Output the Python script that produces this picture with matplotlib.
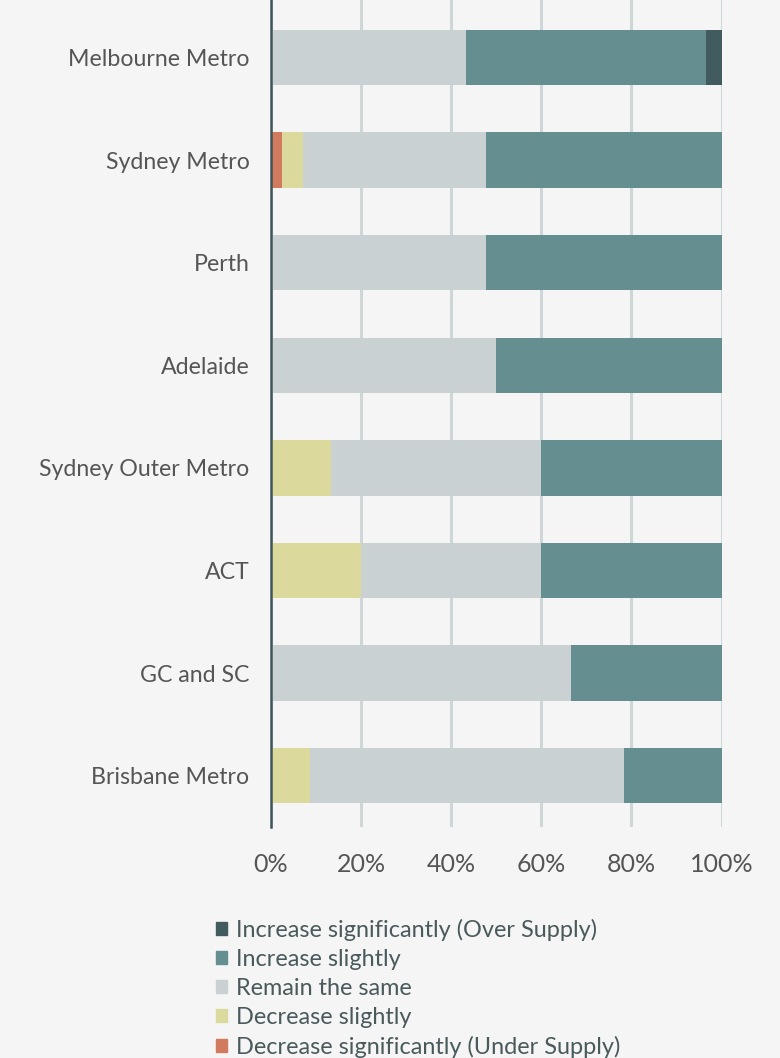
import numpy as np
import matplotlib
matplotlib.use("Agg")
import matplotlib.pyplot as plt
from matplotlib.patches import Patch

regions = ["Melbourne Metro", "Sydney Metro", "Perth", "Adelaide",
           "Sydney Outer Metro", "ACT", "GC and SC", "Brisbane Metro"]

# shares in percent, one list per response
dec_sig = [0.0, 2.4, 0.0, 0.0, 0.0, 0.0, 0.0, 0.0]
dec_slight = [0.0, 4.8, 0.0, 0.0, 13.3, 20.0, 0.0, 8.7]
remain = [43.3, 40.5, 47.8, 50.0, 46.7, 40.0, 66.7, 69.6]
inc_slight = [53.3, 52.3, 52.2, 50.0, 40.0, 40.0, 33.3, 21.7]
inc_sig = [3.4, 0.0, 0.0, 0.0, 0.0, 0.0, 0.0, 0.0]

series = [
    ("Decrease significantly (Under Supply)", dec_sig, "#d27a5d"),
    ("Decrease slightly", dec_slight, "#dbd99c"),
    ("Remain the same", remain, "#c9d1d3"),
    ("Increase slightly", inc_slight, "#658e91"),
    ("Increase significantly (Over Supply)", inc_sig, "#425b5f"),
]

bg = "#f5f5f5"
txt = "#555555"
plt.rcParams['font.family'] = ['Lato', 'DejaVu Sans']

fig = plt.figure(figsize=(7.8, 10.58), dpi=100, facecolor=bg)
ax = fig.add_axes([271 / 780, 1 - 827 / 1058, 450.5 / 780, 827 / 1058])
ax.set_facecolor(bg)

y = np.arange(len(regions))
left = np.zeros(len(regions))
for name, vals, col in series:
    vals = np.array(vals)
    ax.barh(y, vals, left=left, height=0.54, color=col, label=name, zorder=3)
    left += vals

ax.set_xlim(0, 100)
ax.set_ylim(len(regions) - 0.5, -0.56)
ax.set_yticks(y)
ax.set_yticklabels(regions, fontsize=16.7, color=txt)
ax.set_xticks([0, 20, 40, 60, 80, 100])
ax.set_xticklabels([f"{v}%" for v in [0, 20, 40, 60, 80, 100]], fontsize=18, color=txt)
ax.tick_params(axis='y', length=0, pad=15.5)
ax.tick_params(axis='x', length=0, pad=19)
ax.grid(axis='x', color="#cfd6d8", linewidth=2.2, zorder=0)
for s in ["top", "right", "bottom"]:
    ax.spines[s].set_visible(False)
ax.spines["left"].set_color("#3f5457")
ax.spines["left"].set_linewidth(1.8)
ax.spines["left"].set_zorder(4)

handles = [Patch(color=c, label=n) for n, v, c in reversed(series)]
leg = fig.legend(handles=handles, loc="upper left", bbox_to_anchor=(204 / 780, 1 - 907 / 1058),
                 frameon=False, fontsize=16.9, handlelength=0.5, handleheight=0.5,
                 handletextpad=0.35, labelspacing=0.34, borderpad=0)
for t in leg.get_texts():
    t.set_color("#4a5a5c")

fig.savefig("out.png", dpi=100, facecolor=bg)
